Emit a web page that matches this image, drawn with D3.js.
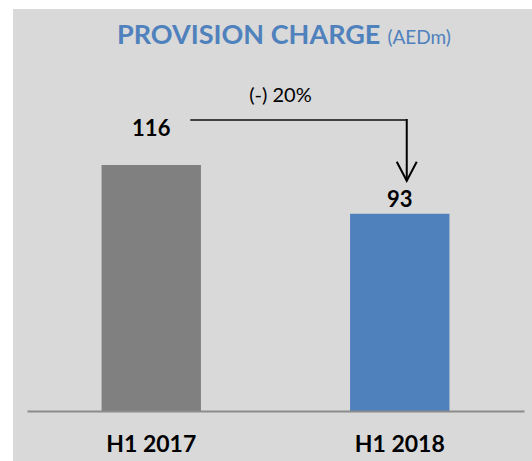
<!DOCTYPE html>
<html>
<head>
<meta charset="utf-8">
<script src="https://cdn.jsdelivr.net/npm/d3@7"></script>
<style>
  body { margin: 0; background: #fff; }
  text { font-family: Lato, "Open Sans", sans-serif; }
</style>
</head>
<body>
<div id="chart"></div>
<script>
// chart data
var categories = ["H1 2017", "H1 2018"];
var values = [116, 93];
var barColors = ["#808080", "#4f81bd"];
var changeLabel = "(-) 20%";

var W = 532, H = 461;
var margin = { top: 165, right: 8, bottom: 50, left: 27 };
var width = W - margin.left - margin.right,
  height = H - margin.top - margin.bottom;

var svg = d3.select("#chart")
  .append("svg")
  .attr("width", W)
  .attr("height", H);

// grey panel
svg.append("rect")
  .attr("x", 13).attr("y", 9)
  .attr("width", W - 13).attr("height", H - 9)
  .attr("fill", "#d9d9d9");

// title
var title = svg.append("text")
  .attr("x", 117).attr("y", 44)
  .attr("fill", "#4f81bd");
title.append("tspan")
  .style("font-weight", "bold")
  .style("font-size", "27px")
  .text("PROVISION CHARGE");
title.append("tspan")
  .style("font-size", "19px")
  .attr("dx", 7)
  .text("(AEDm)");

var g = svg.append("g")
  .attr("transform", "translate(" + margin.left + "," + margin.top + ")");

var x = d3.scaleBand()
  .domain(categories)
  .range([0, width])
  .paddingInner(0.6)
  .paddingOuter(0.3);

var y = d3.scaleLinear()
  .domain([0, values[0]])
  .range([height, 0]);

var data = categories.map(function (c, i) { return { cat: c, value: values[i], color: barColors[i] }; });

// bars
g.selectAll(".bar")
  .data(data)
  .enter()
  .append("rect")
  .attr("class", "bar")
  .attr("x", d => x(d.cat))
  .attr("y", d => y(d.value))
  .attr("width", x.bandwidth())
  .attr("height", d => height - y(d.value))
  .attr("fill", d => d.color);

// x axis
var xAxis = g.append("g")
  .attr("transform", "translate(0," + height + ")")
  .call(d3.axisBottom(x).tickSize(0).tickPadding(25));
xAxis.select(".domain").attr("stroke", "#8c8c8c").attr("stroke-width", 2);
xAxis.selectAll("text")
  .style("font-family", "Lato, sans-serif")
  .style("font-size", "23px")
  .style("font-weight", "bold")
  .attr("fill", "#000");

// value labels
g.selectAll(".val")
  .data(data)
  .enter()
  .append("text")
  .attr("class", "val")
  .attr("x", d => x(d.cat) + x.bandwidth() / 2)
  .attr("y", (d, i) => y(d.value) - (i == 0 ? 29 : 7))
  .attr("text-anchor", "middle")
  .style("font-size", "22px")
  .style("font-weight", "bold")
  .text(d => d.value);

// change arrow
var x1 = x(categories[0]) + x.bandwidth() / 2 + 39;
var x2 = x(categories[1]) + x.bandwidth() / 2 + 7;
var yLine = y(values[0]) - 45;
var yTip = y(values[1]) - 33;

g.append("line")
  .attr("x1", x1).attr("x2", x2)
  .attr("y1", yLine).attr("y2", yLine)
  .attr("stroke", "#404040").attr("stroke-width", 2);
g.append("line")
  .attr("x1", x2).attr("x2", x2)
  .attr("y1", yLine - 1).attr("y2", yTip)
  .attr("stroke", "#000").attr("stroke-width", 2);
g.append("path")
  .attr("d", "M" + (x2 - 10) + "," + (yTip - 19) + "L" + x2 + "," + yTip + "L" + (x2 + 10) + "," + (yTip - 19))
  .attr("fill", "none")
  .attr("stroke", "#000").attr("stroke-width", 2);

g.append("text")
  .attr("x", (x1 + x2) / 2 - 18)
  .attr("y", yLine - 18)
  .attr("text-anchor", "middle")
  .style("font-size", "20px")
  .text(changeLabel);
</script>
</body>
</html>
